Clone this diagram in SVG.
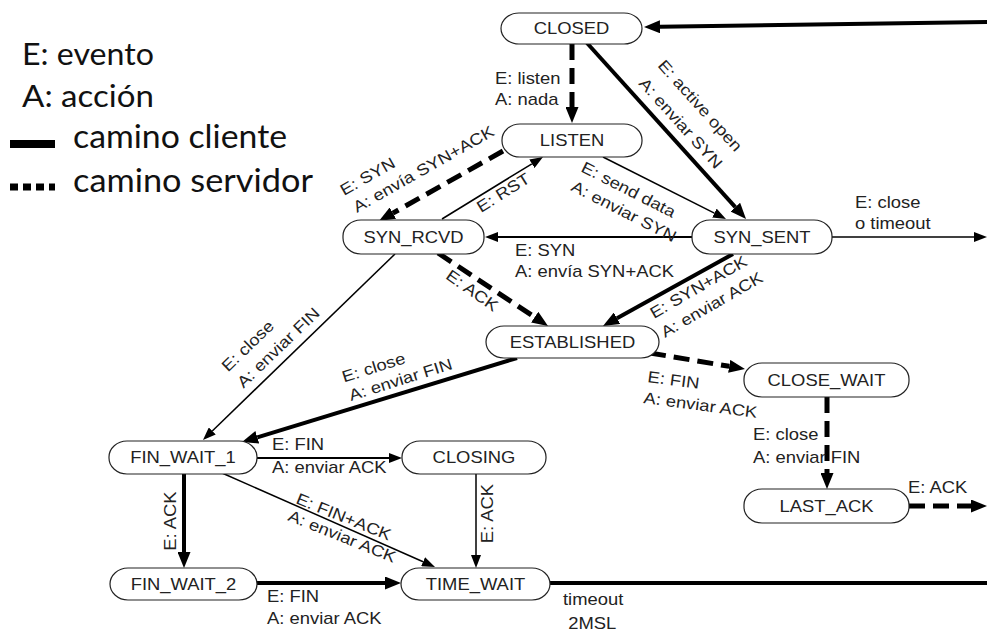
<svg xmlns="http://www.w3.org/2000/svg" width="987" height="633" viewBox="0 0 987 633">
  <defs>
    <style>
      .t { font-family: "Liberation Sans", Arial, sans-serif; font-size: 16px; fill: #222; }
      .m { text-anchor: middle; }
      .node rect { fill: #fff; stroke: #222; stroke-width: 1.2; }
      .c { fill: none; stroke: #000; }
      .thick { stroke-width: 4; }
      .thin { stroke-width: 1.5; }
      .dash { stroke-width: 5; stroke-dasharray: 16 8; }
      .lg { font-family: Lato, "Open Sans", sans-serif; font-size: 31px; fill: #111; }
      .lg2 { font-family: Lato, "Open Sans", sans-serif; font-size: 33px; fill: #111; }
    </style>
    <!-- arrowheads drawn from the end of the shortened path outwards -->
    <marker id="big" viewBox="0 0 16 13" refX="0" refY="6.5" markerWidth="16" markerHeight="13" markerUnits="userSpaceOnUse" orient="auto">
      <path d="M0,0 L16,6.5 L0,13 z" fill="#000"/>
    </marker>
    <marker id="small" viewBox="0 0 13 10" refX="0" refY="5" markerWidth="13" markerHeight="10" markerUnits="userSpaceOnUse" orient="auto">
      <path d="M0,0 L13,5 L0,10 z" fill="#000"/>
    </marker>
  </defs>

  <rect width="987" height="633" fill="#fff"/>

  <!-- legend -->
  <g id="legend">
    <text class="lg" x="22" y="65" textLength="132" lengthAdjust="spacingAndGlyphs">E: evento</text>
    <text class="lg" x="22" y="107" textLength="132" lengthAdjust="spacingAndGlyphs">A: acción</text>
    <line x1="10" y1="144" x2="55" y2="144" stroke="#000" stroke-width="8"/>
    <text class="lg2" x="73" y="148" textLength="214" lengthAdjust="spacingAndGlyphs">camino cliente</text>
    <line x1="10" y1="187" x2="55" y2="187" stroke="#000" stroke-width="7" stroke-dasharray="8 5"/>
    <text class="lg2" x="73" y="192" textLength="240" lengthAdjust="spacingAndGlyphs">camino servidor</text>
  </g>

  <!-- connectors -->
  <g id="connectors">
    <path class="c thick" d="M987,22 L660,26.8" marker-end="url(#big)"/>
    <path class="c dash" d="M572,44 L572,107" marker-end="url(#big)"/>
    <path class="c thick" d="M587,43 L735.3,207.1" marker-end="url(#big)"/>
    <path class="c dash" d="M503,151 L392.9,213.1" marker-end="url(#big)"/>
    <path class="c thin" d="M442,219 L531.9,163.8" marker-end="url(#small)"/>
    <path class="c thin" d="M603,157 L714.4,213.1" marker-end="url(#small)"/>
    <path class="c" stroke-width="2" d="M692,237 L498,237" marker-end="url(#small)"/>
    <path class="c thin" d="M832,237 L974,237" marker-end="url(#small)"/>
    <path class="c dash" d="M438,253 L534.7,317.2" marker-end="url(#big)"/>
    <path class="c thick" d="M733,254 L617,318.2" marker-end="url(#big)"/>
    <path class="c thin" d="M395,254 L212.3,431" marker-end="url(#small)"/>
    <path class="c thick" d="M517,358 L257.3,437.3" marker-end="url(#big)"/>
    <path class="c dash" d="M650,353 L729.2,366.3" marker-end="url(#big)"/>
    <path class="c dash" d="M827,397 L827,473" marker-end="url(#big)"/>
    <path class="c dash" d="M909,506 L971,506" marker-end="url(#big)"/>
    <path class="c" stroke-width="2" d="M257,458 L389,458" marker-end="url(#small)"/>
    <path class="c thick" d="M184,474 L184,552" marker-end="url(#big)"/>
    <path class="c thin" d="M222,473 L423.1,561.7" marker-end="url(#small)"/>
    <path class="c thin" d="M476,474 L476,555" marker-end="url(#small)"/>
    <path class="c thick" d="M257,583 L385,583" marker-end="url(#big)"/>
    <path class="c thick" d="M550,583 L987,583"/>
  </g>

  <!-- connector labels -->
  <g id="labels">
    <text class="t" transform="translate(495,84) scale(1.15,1)">E: listen<tspan x="0" dy="21">A: nada</tspan></text>
    <text class="t" transform="translate(657,66) rotate(48) scale(1.15,1)">E: active open</text>
    <text class="t" transform="translate(638,84) rotate(48) scale(1.15,1)">A: enviar SYN</text>
    <text class="t" transform="translate(344,196) rotate(-29.5) scale(1.15,1)">E: SYN</text>
    <text class="t" transform="translate(357,213) rotate(-29.5) scale(1.15,1)">A: envía SYN+ACK</text>
    <text class="t" transform="translate(481,213) rotate(-32) scale(1.15,1)">E: RST</text>
    <text class="t" transform="translate(580,171) rotate(27) scale(1.15,1)">E: send data</text>
    <text class="t" transform="translate(570,190) rotate(27) scale(1.15,1)">A: enviar SYN</text>
    <text class="t" transform="translate(515,256) scale(1.15,1)">E: SYN<tspan x="0" dy="21">A: envía SYN+ACK</tspan></text>
    <text class="t" transform="translate(855,208) scale(1.15,1)">E: close<tspan x="0" dy="21">o timeout</tspan></text>
    <text class="t m" transform="translate(469,295) rotate(35) scale(1.15,1)">E: ACK</text>
    <text class="t" transform="translate(654,319) rotate(-30) scale(1.15,1)">E: SYN+ACK</text>
    <text class="t" transform="translate(665,338) rotate(-30) scale(1.15,1)">A: enviar ACK</text>
    <text class="t" transform="translate(228,372.5) rotate(-44) scale(1.15,1)">E: close</text>
    <text class="t" transform="translate(243.5,388.7) rotate(-44) scale(1.15,1)">A: enviar FIN</text>
    <text class="t" transform="translate(344,382.6) rotate(-17.5) scale(1.15,1)">E: close</text>
    <text class="t" transform="translate(351,401) rotate(-17.5) scale(1.15,1)">A: enviar FIN</text>
    <text class="t" transform="translate(647,382) rotate(7.5) scale(1.15,1)">E: FIN</text>
    <text class="t" transform="translate(643,403) rotate(7.5) scale(1.15,1)">A: enviar ACK</text>
    <text class="t" transform="translate(753,440) scale(1.15,1)">E: close<tspan x="0" dy="23">A: enviar FIN</tspan></text>
    <text class="t" transform="translate(908,493) scale(1.15,1)">E: ACK</text>
    <text class="t" transform="translate(272,450) scale(1.15,1)">E: FIN<tspan x="0" dy="23">A: enviar ACK</tspan></text>
    <text class="t m" transform="translate(176,521) rotate(-90) scale(1.15,1)">E: ACK</text>
    <text class="t" transform="translate(295,503) rotate(22) scale(1.15,1)">E: FIN+ACK</text>
    <text class="t" transform="translate(287,520) rotate(22) scale(1.15,1)">A: enviar ACK</text>
    <text class="t m" transform="translate(493,513.5) rotate(-90) scale(1.15,1)">E: ACK</text>
    <text class="t" transform="translate(267,602) scale(1.15,1)">E: FIN<tspan x="0" dy="22">A: enviar ACK</tspan></text>
    <text class="t" transform="translate(563,605) scale(1.15,1)">timeout<tspan x="4.5" dy="24">2MSL</tspan></text>
  </g>

  <!-- states -->
  <g id="CLOSED" class="node">
    <rect x="501" y="13" width="141" height="31" rx="18" ry="15.5"/>
    <text class="t m" transform="translate(571.5,34) scale(1.15,1)">CLOSED</text>
  </g>
  <g id="LISTEN" class="node">
    <rect x="502" y="124" width="140" height="33" rx="18" ry="16"/>
    <text class="t m" transform="translate(572,146) scale(1.15,1)">LISTEN</text>
  </g>
  <g id="SYN_RCVD" class="node">
    <rect x="343" y="220" width="141" height="34" rx="18" ry="16"/>
    <text class="t m" transform="translate(413.5,242.5) scale(1.15,1)">SYN_RCVD</text>
  </g>
  <g id="SYN_SENT" class="node">
    <rect x="692" y="220" width="140" height="34" rx="18" ry="16"/>
    <text class="t m" transform="translate(762,242.5) scale(1.15,1)">SYN_SENT</text>
  </g>
  <g id="ESTABLISHED" class="node">
    <rect x="486" y="326" width="173" height="32" rx="18" ry="16"/>
    <text class="t m" transform="translate(572.5,347.5) scale(1.15,1)">ESTABLISHED</text>
  </g>
  <g id="CLOSE_WAIT" class="node">
    <rect x="744" y="363" width="165" height="34" rx="18" ry="16"/>
    <text class="t m" transform="translate(826.5,385.5) scale(1.15,1)">CLOSE_WAIT</text>
  </g>
  <g id="LAST_ACK" class="node">
    <rect x="744" y="489" width="165" height="34" rx="18" ry="16"/>
    <text class="t m" transform="translate(826.5,511.5) scale(1.15,1)">LAST_ACK</text>
  </g>
  <g id="FIN_WAIT_1" class="node">
    <rect x="109" y="441" width="148" height="33" rx="18" ry="16"/>
    <text class="t m" transform="translate(183,463) scale(1.15,1)">FIN_WAIT_1</text>
  </g>
  <g id="CLOSING" class="node">
    <rect x="402" y="441" width="144" height="33" rx="18" ry="16"/>
    <text class="t m" transform="translate(474,463) scale(1.15,1)">CLOSING</text>
  </g>
  <g id="FIN_WAIT_2" class="node">
    <rect x="110" y="568" width="147" height="32" rx="18" ry="16"/>
    <text class="t m" transform="translate(183.5,589.5) scale(1.15,1)">FIN_WAIT_2</text>
  </g>
  <g id="TIME_WAIT" class="node">
    <rect x="401" y="568" width="149" height="32" rx="18" ry="16"/>
    <text class="t m" transform="translate(475.5,589.5) scale(1.15,1)">TIME_WAIT</text>
  </g>
</svg>
